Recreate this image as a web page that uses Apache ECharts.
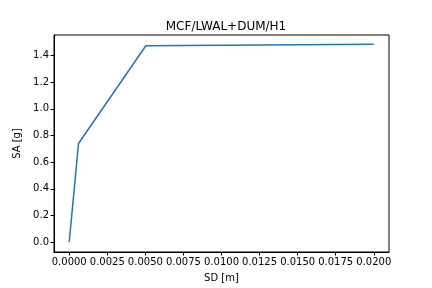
<!DOCTYPE html>
<html><head><meta charset="utf-8">
<script src="https://cdn.jsdelivr.net/npm/echarts@6/dist/echarts.min.js"></script>
<style>html,body{margin:0;padding:0;background:#fff}#c{width:432px;height:288px}</style>
</head><body><div id="c"></div>
<script>
const sdValues = [0, 0.00061, 0.00503, 0.0200];
const saValues = [0, 0.740, 1.473, 1.485];
const xTicks = [0, 0.0025, 0.005, 0.0075, 0.01, 0.0125, 0.015, 0.0175, 0.02];
const yTicks = [0, 0.2, 0.4, 0.6, 0.8, 1.0, 1.2, 1.4];
const titleText = 'MCF/LWAL+DUM/H1';
const xName = 'SD [m]';
const yName = 'SA [g]';

const font = 'DejaVu Sans';
const chart = echarts.init(document.getElementById('c'), null, {renderer: 'canvas'});
chart.setOption({
  animation: false,
  backgroundColor: '#fff',
  title: {text: titleText, left: 221, top: 16, textAlign: 'center',
    textStyle: {fontFamily: font, fontSize: 12, fontWeight: 'normal', color: '#000'}},
  grid: {left: 54, right: 43, top: 35, bottom: 36, show: true, borderColor: '#000', borderWidth: 1, backgroundColor: 'transparent'},
  xAxis: {
    type: 'value', min: -0.001, max: 0.021,
    name: xName, nameLocation: 'middle', nameGap: 21,
    nameTextStyle: {fontFamily: font, fontSize: 10, color: '#000'},
    axisLine: {show: true, onZero: false, lineStyle: {color: '#000', width: 1}},
    axisTick: {show: true, length: 3.5, customValues: xTicks, lineStyle: {color: '#000'}},
    axisLabel: {customValues: xTicks, fontFamily: font, fontSize: 10, color: '#000', margin: 5,
      formatter: v => v.toFixed(4)},
    splitLine: {show: false}
  },
  yAxis: {
    type: 'value', min: -0.074, max: 1.554,
    name: yName, nameLocation: 'middle', nameGap: 31, nameRotate: 90,
    nameTextStyle: {fontFamily: font, fontSize: 10, color: '#000', verticalAlign: 'middle'},
    axisLine: {show: true, onZero: false, lineStyle: {color: '#000', width: 1}},
    axisTick: {show: true, length: 3.5, customValues: yTicks, lineStyle: {color: '#000'}},
    axisLabel: {customValues: yTicks, fontFamily: font, fontSize: 10, color: '#000', margin: 5,
      formatter: v => v.toFixed(1)},
    splitLine: {show: false}
  },
  series: [{
    type: 'line', data: sdValues.map((x, i) => [x, saValues[i]]),
    showSymbol: false, symbol: 'none',
    lineStyle: {color: '#1f77b4', width: 1.5}
  }]
});
</script></body></html>
